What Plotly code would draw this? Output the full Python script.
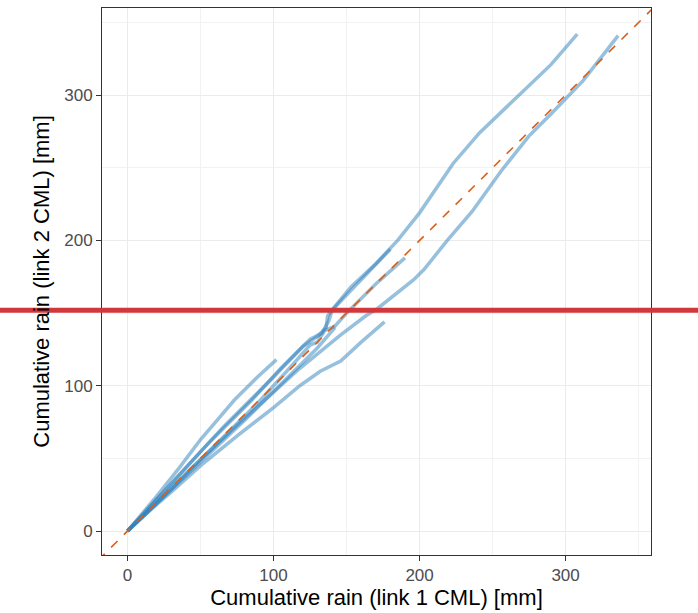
import plotly.graph_objects as go

# Cumulative rain series (link 1 CML on x, link 2 CML on y), mm
a_x = [0, 10, 20, 35, 50, 65, 80, 100, 120, 130, 136, 137, 140, 153, 170, 185, 200, 223, 241, 266, 290, 308]
a_y = [0, 11, 22, 38, 55, 71, 86, 106, 127, 134, 140, 148, 152, 168, 184, 200, 219, 253, 274, 298, 321, 342]

b_x = [0, 15, 30, 50, 73, 96, 118, 146, 163, 171, 185, 196, 203, 219, 236, 256, 275, 290, 312, 336]
b_y = [0, 14, 29, 49, 71, 92, 112, 135, 148, 153, 164, 173, 180, 200, 220, 248, 272, 287, 310, 341]

c_x = [0, 15, 30, 50, 77, 100, 118, 132, 146, 160, 176]
c_y = [0, 14, 27, 45, 67, 85, 100, 110, 117, 130, 144]

d_x = [0, 10, 20, 35, 50, 62, 73, 89, 102]
d_y = [0, 12, 24, 43, 63, 77, 90, 106, 118]

e_x = [0, 15, 30, 60, 90, 110, 125, 130, 135, 142, 150, 170, 190]
e_y = [0, 15, 30, 59, 89, 111, 128, 130, 138, 141, 150, 170, 188]

f_x = [0, 12, 25, 40, 55, 70, 85, 105, 125, 133, 138, 140, 155, 170, 180]
f_y = [0, 13, 27, 43, 60, 75, 90, 112, 132, 136, 145, 152, 168, 184, 194]

g_x = [0, 20, 40, 60, 80, 110, 130, 142]
g_y = [0, 19, 38, 57, 76, 106, 126, 140]

series = [(a_x, a_y), (b_x, b_y), (c_x, c_y), (d_x, d_y), (e_x, e_y), (f_x, f_y), (g_x, g_y)]

diag = [-20, 370]          # 1:1 reference line
marker_y = 152             # horizontal red marker level (data units)

x_ticks = [0, 100, 200, 300]
y_ticks = [0, 100, 200, 300]

fig = go.Figure()
for sx, sy in series:
    fig.add_trace(go.Scatter(
        x=sx, y=sy, mode="lines",
        line=dict(color="rgb(49,130,189)", width=3.5),
        opacity=0.5, showlegend=False, hoverinfo="skip"))

fig.add_trace(go.Scatter(
    x=diag, y=diag, mode="lines",
    line=dict(color="#d9601a", width=1.6, dash="dash"),
    showlegend=False, hoverinfo="skip"))

L, R, T, B = 102, 47, 8, 58
W, H = 698, 613
pw = W - L - R
fig.add_shape(type="line", xref="paper", yref="y",
              x0=-L / pw, x1=(W - L) / pw, y0=marker_y, y1=marker_y,
              line=dict(color="#d1373b", width=5), layer="above")

axis_common = dict(
    showline=True, mirror=True, linecolor="#333333", linewidth=1,
    ticks="outside", ticklen=5, tickcolor="#333333", tickwidth=1,
    tickfont=dict(size=17, color="#4d4d4d"),
    showgrid=True, gridcolor="#ebebeb", gridwidth=1.2,
    zeroline=False,
    minor=dict(showgrid=True, gridcolor="#f2f2f2", gridwidth=0.7, dtick=50),
)

fig.update_xaxes(range=[-17.5, 358.5], tickvals=x_ticks, **axis_common,
                 title=dict(text="Cumulative rain (link 1 CML) [mm]",
                            font=dict(size=22, color="black"), standoff=4))
fig.update_yaxes(range=[-16.5, 360], tickvals=y_ticks, **axis_common,
                 title=dict(text="Cumulative rain (link 2 CML) [mm]",
                            font=dict(size=22, color="black"), standoff=8))

fig.update_layout(
    width=W, height=H,
    margin=dict(l=L, r=R, t=T, b=B),
    paper_bgcolor="white", plot_bgcolor="white",
    font=dict(family="Liberation Sans, Arial, sans-serif"),
)

fig.write_html("out.html", config={"displayModeBar": False},
               post_script="document.body.style.margin='0';document.body.style.overflow='hidden';")
